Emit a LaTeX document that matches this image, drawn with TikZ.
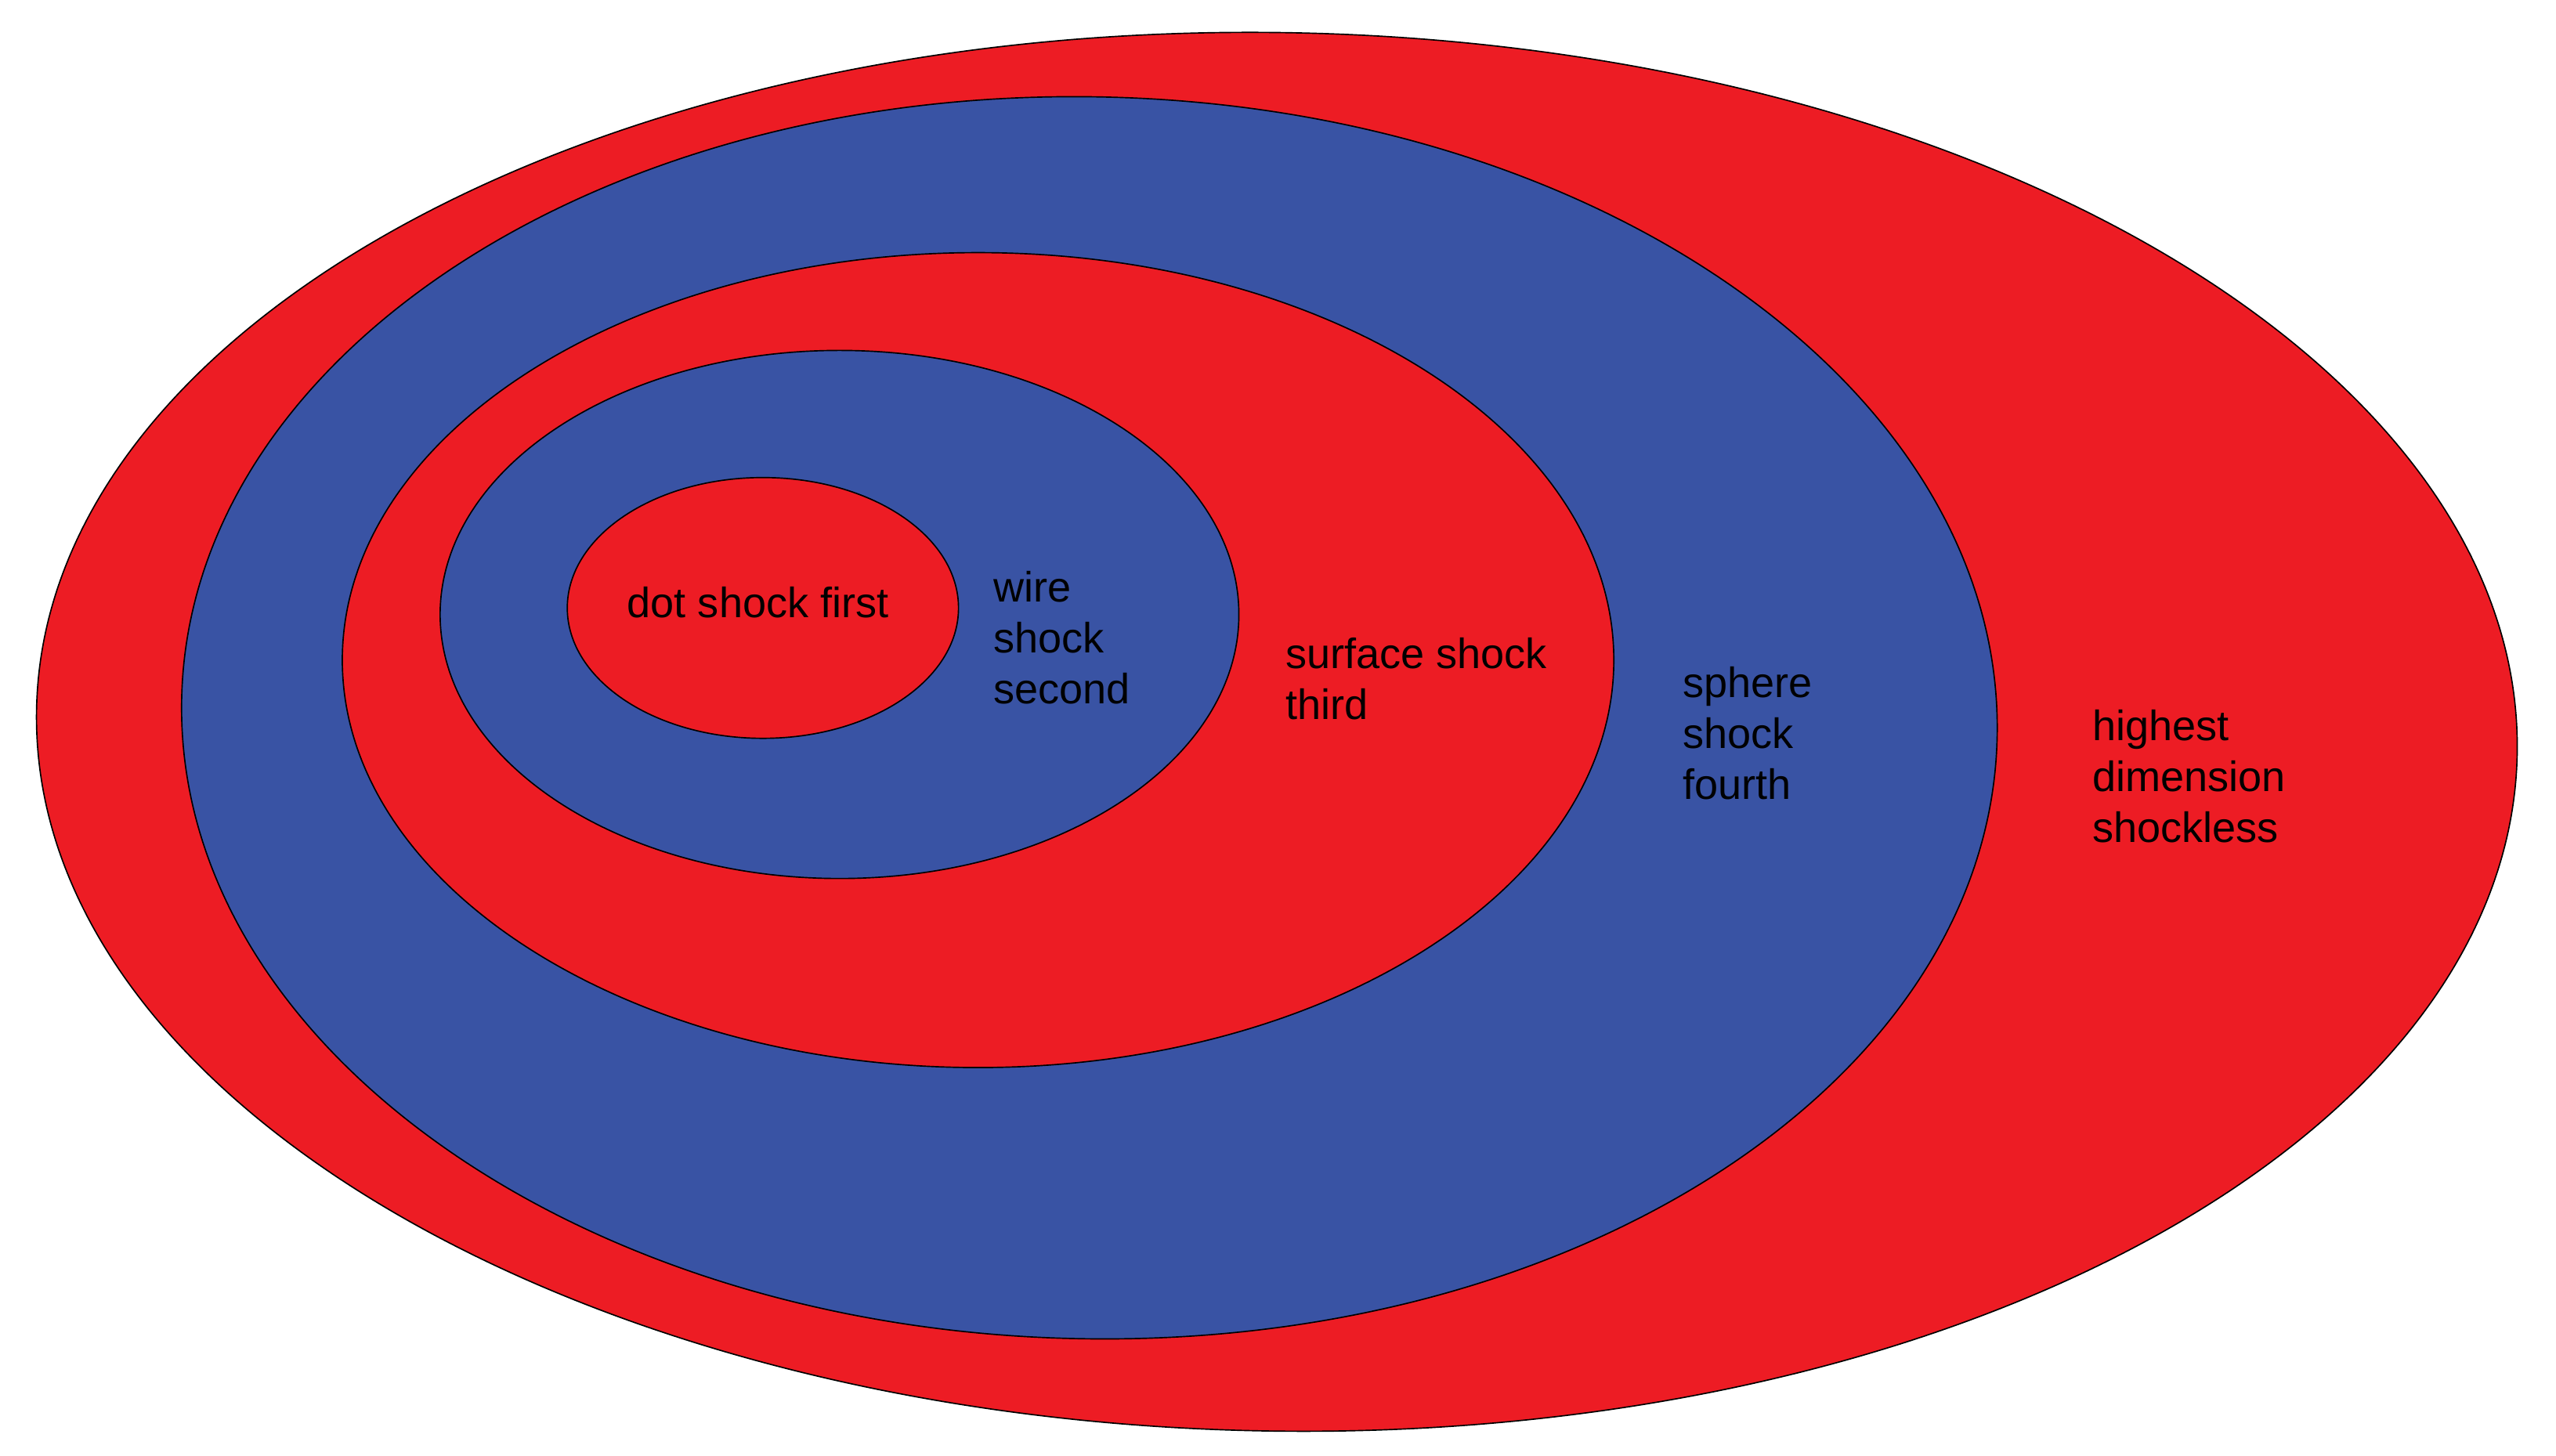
\documentclass[tikz,border=0pt]{standalone}
\usepackage{fontspec}
\setmainfont{Liberation Sans}
\definecolor{shred}{RGB}{237,28,36}
\definecolor{shblue}{RGB}{57,83,164}
\begin{document}
\begin{tikzpicture}[x=1pt,y=-1pt,
  ring/.style={draw=black,line width=0.8pt},
  lbl/.style={anchor=north west,inner sep=0pt,align=left,text=black,
    font=\fontsize{26}{31.2}\selectfont}]
\useasboundingbox (0,0) rectangle (1568,893);
\fill[white] (0,0) rectangle (1568,893);
\path[ring,fill=shred,rotate around={-1:(783.3,449)}]  (783.3,449) ellipse [x radius=761pt,y radius=429pt];
\path[ring,fill=shblue,rotate around={-1.2:(668.3,440.4)}] (668.3,440.4) ellipse [x radius=557pt,y radius=381pt];
\path[ring,fill=shred]  (600,405) ellipse [x radius=390pt,y radius=250pt];
\path[ring,fill=shblue] (515,377) ellipse [x radius=245pt,y radius=162pt];
\path[ring,fill=shred]  (468,373) ellipse [x radius=120pt,y radius=80pt];
\node[lbl] (dot) at (384.6,378.7-21.84) {\strut dot shock first};
\node[lbl] (wire) at (609.4,369-21.84) {\strut wire\\shock\\second};
\node[lbl] (surf) at (788.5,410-21.84) {\strut surface shock\\third};
\node[lbl] (sph) at (1032,427.7-21.84) {\strut sphere\\shock\\fourth};
\node[lbl] (high) at (1283.5,454-21.84) {\strut highest\\dimension\\shockless};
\end{tikzpicture}
\end{document}
